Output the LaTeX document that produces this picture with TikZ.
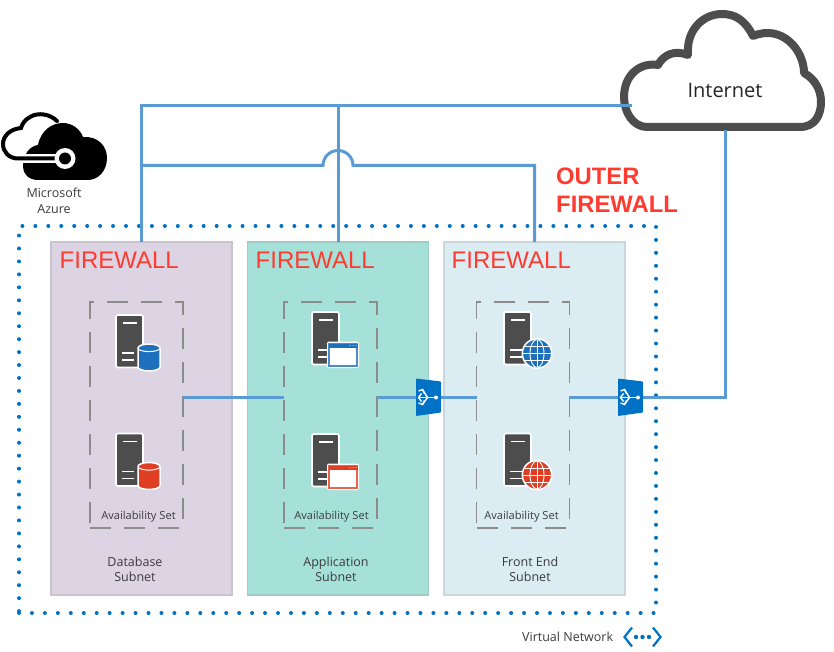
\documentclass[tikz,border=0pt]{standalone}
\usepackage{fontspec}
\setmainfont{Open Sans}
\newfontfamily\fwfont{Liberation Sans}
\definecolor{linkblue}{HTML}{5B9BD5}
\definecolor{vnetblue}{HTML}{0072C6}
\definecolor{srvgrey}{HTML}{4D4D4D}
\definecolor{accblue}{HTML}{1E70BC}
\definecolor{accred}{HTML}{DF3E22}
\definecolor{fwred}{HTML}{FF3B30}
\definecolor{txtgrey}{HTML}{3C3C3C}
\definecolor{subdb}{HTML}{DCD3E3}
\definecolor{subapp}{HTML}{A6E1D9}
\definecolor{subfe}{HTML}{DBECF3}
\tikzset{
  subnet/.style={draw=#1!80!gray,fill=#1,line width=1.2pt,minimum width=181pt,minimum height=353pt,inner sep=0pt,outer sep=0pt},
  availset/.style={draw=gray!90,line width=1.6pt,dash pattern=on 21pt off 13pt,minimum width=93pt,minimum height=226pt,inner sep=0pt,outer sep=0pt},
  link/.style={draw=linkblue,line width=3pt},
  fwlabel/.style={font=\fwfont\fontsize{24}{24}\selectfont,text=fwred,inner sep=0pt,anchor=west},
  smalltext/.style={font=\fontsize{11.1}{12}\selectfont,text=txtgrey,inner sep=0pt},
  subtext/.style={font=\fontsize{12.5}{15.5}\selectfont,text=txtgrey,align=center,inner sep=0pt},
  routerspot/.style={minimum width=25pt,minimum height=38pt,inner sep=0pt,outer sep=0pt},
  server/.pic={
    \draw[white,line width=1.6pt,fill=srvgrey,rounded corners=1.5pt] (0,0) rectangle (27,52.5);
    \draw[white,line width=1.4pt] (7,8)--(21,8) (6,38)--(18,38) (6,45)--(18,45);
  },
  dbicon/.pic={
    \pic {server};
    \fill[#1,draw=white,line width=1.5pt] (22,33) -- (22,52) arc[start angle=180,end angle=0,x radius=11,y radius=4] -- (44,33) arc[start angle=0,end angle=-180,x radius=11,y radius=4] -- cycle;
    \draw[white,line width=1pt] (22,33) arc[start angle=180,end angle=0,x radius=11,y radius=3.6];
  },
  appicon/.pic={
    \pic {server};
    \fill[white,rounded corners=2pt] (15,29.5) rectangle (47,56);
    \draw[#1!80!white,line width=1.4pt,fill=white] (17,32) rectangle (45,54);
    \fill[#1] (16.5,31.5) rectangle (45.5,35.5);
    \foreach \k in {38,41,44}{\fill[white] (\k,33.5) circle[radius=.5];}
  },
  webicon/.pic={
    \pic {server};
    \fill[#1,draw=white,line width=1.5pt] (33,41.5) circle[radius=14.7];
    \begin{scope}[white,line width=.9pt]
      \clip (33,41.5) circle[radius=14];
      \draw (33,41.5) ellipse[x radius=7,y radius=14];
      \draw (33,27.5)--(33,55.5) (19,41.5)--(47,41.5);
      \draw (19,34.5)--(47,34.5) (19,48.5)--(47,48.5);
    \end{scope}
  },
  routericon/.pic={
    \fill[vnetblue,rounded corners=.8pt] (-12.5,-19) -- (12.5,-16) -- (12.5,15) -- (-12.5,18.5) -- cycle;
    \begin{scope}[white,line width=1.4pt]
      \draw (-10,0)--(7,0);
      \draw (-1,0)--(-6,-8) (-1,0)--(-6,7);
      \draw (-7,-4)--(-10,0)--(-7,4);
      \draw (-10,-6.5)--(-6,-8)--(-4,-4);
      \draw (-10,5.5)--(-6,7)--(-4,3);
      \fill (7.5,0) circle[radius=2];
    \end{scope}
  },
}
\begin{document}
\begin{tikzpicture}[x=1pt,y=-1pt]
\useasboundingbox[fill=white] (0,0) rectangle (834,652);
% subnets
\node[subnet=subdb]  (dbnet)  at (141.5,418.5) {};
\node[subnet=subapp] (appnet) at (338,418.5) {};
\node[subnet=subfe]  (fenet)  at (534.5,418.5) {};
% virtual network boundary
\node[draw=vnetblue,line width=4pt,line cap=round,dash pattern=on 0pt off 12.95pt,minimum width=637pt,minimum height=387pt,inner sep=0pt,outer sep=0pt] (vnet) at (337.5,419.5) {};
% availability sets
\node[availset] (dbset)  at (136.5,415) {};
\node[availset] (appset) at (330.5,415) {};
\node[availset] (feset)  at (523,415) {};
% cloud
\draw[srvgrey,line width=8pt,line join=round,fill=white]
  (647,127) -- (800,127)
  .. controls (815,127) and (821,115) .. (821,102)
  .. controls (821,90) and (815,79) .. (804,73)
  .. controls (804,50) and (782,24) .. (753,36)
  .. controls (745,20) and (735,14) .. (722,14)
  .. controls (703,14) and (686,30) .. (688,55)
  .. controls (675,50) and (664,54) .. (658,65)
  .. controls (640,62) and (624,75) .. (624,97)
  .. controls (624,112) and (633,127) .. (647,127) -- cycle;
\node[font=\fontsize{20}{22}\selectfont,text=black!85,inner sep=0pt] (internet) at (725,90) {Internet};
\coordinate (cloudwest) at (632,105.5);
\coordinate (cloudsouth) at (725,130);
% routers
\node[routerspot] (router1) at (428.5,397.5) {};
\node[routerspot] (router2) at (630.5,397.5) {};
% wires
\coordinate (topdb) at (dbnet.north);
\coordinate (topapp) at (appnet.north);
\coordinate (topfe) at (fenet.north);
\coordinate (busA) at (topdb |- cloudwest);
\coordinate (busB) at (141.5,165.5);
\coordinate (hopL) at (323,165.5);
\coordinate (hopR) at (353,165.5);
\coordinate (busC) at (topfe |- hopR);
\path[link] (busA) -- (topdb);
\path[link] ([xshift=-1.5pt]busA) -- (cloudwest);
\path[link] (topapp |- cloudwest) -- (topapp);
\path[link] (busB) -- (hopL) arc[start angle=180,end angle=360,radius=15] -- (busC) -- (topfe);
\coordinate (y397) at (0,397.5);
\path[link] (dbset.east |- y397) -- (appset.west |- y397);
\path[link] (appset.east |- y397) -- (router1);
\path[link] (router1) -- (feset.west |- y397);
\path[link] (feset.east |- y397) -- (router2);
\path[link,line join=miter] (router2) -- (cloudsouth |- y397) -- (cloudsouth);
\path (router1) pic {routericon};
\path (router2) pic {routericon};
% server icons
\path (116,315) pic {dbicon=accblue};
\path (116,433.5) pic {dbicon=accred};
\path (312,312) pic {appicon=accblue};
\path (312,434) pic {appicon=accred};
\path (504,312) pic {webicon=accblue};
\path (504,433.5) pic {webicon=accred};
% labels
\node[fwlabel] (fw1) at (59.5,260) {FIREWALL};
\node[fwlabel] (fw2) at (255.5,260) {FIREWALL};
\node[fwlabel] (fw3) at (451.5,260) {FIREWALL};
\node[font=\fwfont\bfseries\fontsize{23.8}{28}\selectfont,text=fwred,align=left,inner sep=0pt,anchor=north west] (outer) at (556,167.5) {OUTER\\FIREWALL};
\node[smalltext] (as1) at (138.5,516.5) {Availability Set};
\node[smalltext] (as2) at (331.5,516.5) {Availability Set};
\node[smalltext] (as3) at (521.5,516.5) {Availability Set};
\node[subtext] (s1) at (135,569.5) {Database\\Subnet};
\node[subtext] (s2) at (336,569.5) {Application\\Subnet};
\node[subtext] (s3) at (530,569.5) {Front End\\Subnet};
\node[subtext] (az) at (54,201) {Microsoft\\Azure};
\node[subtext,anchor=west] (vn) at (522,637) {Virtual Network};
% virtual network symbol
\draw[vnetblue,line width=2.2pt] (632,627.5) -- (624.5,637) -- (632,646.5) (653,627.5) -- (660.5,637) -- (653,646.5);
\foreach \k in {636,642.5,649}{\fill[vnetblue] (\k,637) circle[radius=2.2];}
% Azure logo
\fill[black] (38,180)
  .. controls (28,180) and (23,173) .. (23,167)
  .. controls (23,154) and (30,146) .. (38,145)
  .. controls (41,130) and (52,123) .. (63,123)
  .. controls (72,123) and (80,129) .. (83,137)
  .. controls (98,136) and (107,146) .. (107,158)
  .. controls (107,171) and (98,180) .. (88,180) -- cycle;
\draw[white,line width=9pt] (20,159) -- (60,159);
\draw[black,line width=4pt,line cap=round] (57,121)
  .. controls (50,114) and (38,112) .. (30,117)
  .. controls (24,120) and (22,125) .. (21,128)
  .. controls (10,129) and (3,136) .. (3,144)
  .. controls (3,152) and (9,158) .. (17,158.5) -- (62,158.5);
\fill[white] (65,158.5) circle[radius=10.5];
\fill[black] (65,158.5) circle[radius=6];
\end{tikzpicture}
\end{document}
